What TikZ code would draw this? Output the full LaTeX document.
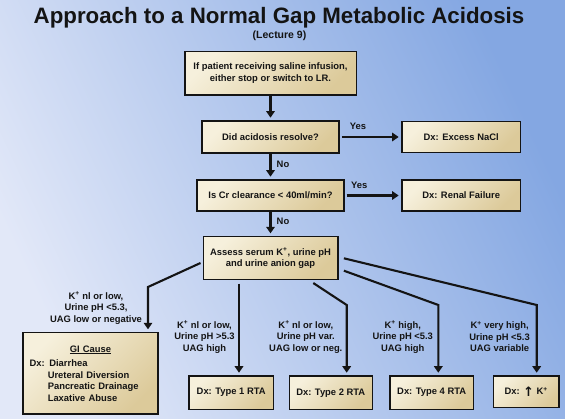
\documentclass[tikz,border=0pt]{standalone}
\usepackage{fontspec}
\setmainfont{Liberation Sans}
\newfontfamily\arrowfont{DejaVu Sans}
\usetikzlibrary{arrows.meta}
\definecolor{bgdark}{HTML}{84A7E2}
\definecolor{bglight}{HTML}{E2E8F8}
\definecolor{boxlight}{HTML}{F6F0DC}
\definecolor{boxdark}{HTML}{DCCA9A}
\definecolor{ink}{HTML}{141414}
\newcommand\mybfont{\fontsize{9.4}{11.5}\selectfont\bfseries}
\begin{document}
\begin{tikzpicture}[x=1pt,y=-1pt,
  box/.style={draw=ink, line width=1.5pt, top color=boxlight, bottom color=boxdark,
    shading angle=45, align=center, font=\mybfont, text=ink, inner sep=0pt},
  arr/.style={draw=ink, line width=2.1pt, -{Triangle[length=6.5pt,width=8.5pt]},
    shorten >=2.6pt},
  lbl/.style={font=\mybfont, align=center, text=ink, inner sep=0pt}]
\useasboundingbox (0,0) rectangle (565,419);
\shade[bottom color=bglight, top color=bgdark, shading angle=-65] (0,0) rectangle (565,419);

% titles
\node[font=\fontsize{22.3}{26}\selectfont\bfseries, text=ink, anchor=base, inner sep=0pt] (title) at (279,23.3) {Approach to a Normal Gap Metabolic Acidosis};
\node[font=\fontsize{10.5}{12}\selectfont\bfseries, text=ink, anchor=base, inner sep=0pt] (lec) at (279.5,38.8) {(Lecture 9)};

% boxes
\node[box, minimum width=171.5, minimum height=43.3] (b1) at (270.5,73.3) {If patient receiving saline infusion,\\ either stop or switch to LR.};
\node[box, minimum width=137, minimum height=32] (b2) at (270.5,137) {Did acidosis resolve?};
\node[box, minimum width=118.4, minimum height=31] (nacl) at (461.2,137) {Dx: Excess NaCl};
\node[box, minimum width=146.7, minimum height=31] (b3) at (270.5,195.5) {Is Cr clearance < 40ml/min?};
\node[box, minimum width=118.4, minimum height=31.3] (renal) at (461.2,195.5) {Dx: Renal Failure};
\node[box, minimum width=134.5, minimum height=42.6] (as) at (270.5,258) {Assess serum K\textsuperscript{+}, urine pH\\ and urine anion gap};
\node[box, minimum width=135, minimum height=81.3, text width=122, align=left] (gi) at (90.5,373.3)
  {\makebox[122pt]{\underline{GI Cause}}\\[3pt]
   Dx: Diarrhea\\
   \phantom{Dx:} Ureteral Diversion\\
   \phantom{Dx:} Pancreatic Drainage\\
   \phantom{Dx:} Laxative Abuse};
\node[box, minimum width=84.3, minimum height=33.3] (t1) at (231.2,392.7) {Dx: Type 1 RTA};
\node[box, minimum width=83, minimum height=33.3] (t2) at (330.8,392.7) {Dx: Type 2 RTA};
\node[box, minimum width=83.3, minimum height=33.3] (t4) at (431.7,392.7) {Dx: Type 4 RTA};
\node[box, minimum width=65.7, minimum height=31.3] (hk) at (526.2,391.7) {Dx: \raisebox{-1.5pt}{\arrowfont\fontsize{13}{13}\selectfont ↑} K\textsuperscript{+}};

% labels
\node[lbl] (yes1) at (358,126) {Yes};
\node[lbl] (yes2) at (359.3,185.7) {Yes};
\node[lbl] (no1) at (283,164) {No};
\node[lbl] (no2) at (283,221.7) {No};
\node[lbl] (gil) at (96,308) {K\textsuperscript{+} nl or low,\\Urine pH <5.3,\\UAG low or negative};
\node[lbl] (t1l) at (204.5,336.7) {K\textsuperscript{+} nl or low,\\Urine pH >5.3\\UAG high};
\node[lbl] (t2l) at (305.8,336.7) {K\textsuperscript{+} nl or low,\\Urine pH var.\\UAG low or neg.};
\node[lbl] (t4l) at (402.8,336.7) {K\textsuperscript{+} high,\\Urine pH <5.3\\UAG high};
\node[lbl] (hkl) at (499.6,336.7) {K\textsuperscript{+} very high,\\Urine pH <5.3\\UAG variable};

% connectors
\draw[arr] (b1) -- (b2);
\draw[arr, shorten <=2pt] (b2) -- (nacl);
\draw[arr] (b2) -- (b3);
\draw[arr, shorten <=2pt] (b3) -- (renal);
\draw[arr] (b3) -- (as);

\coordinate (gibend) at (148,287);
\coordinate (t1x) at (239,0);
\coordinate (t2bend) at (346.7,305);
\coordinate (t4bend) at (438.3,305);
\coordinate (hkbend) at (536.7,305);

\draw[arr, line join=miter] ([shift={(-2,5)}]as.west) -- (gibend) -- (gibend |- gi.north);
\draw[arr, shorten <=3.5pt] (as.south -| t1x) -- (t1.north -| t1x);
\draw[arr, line join=miter] ([shift={(42.8,3)}]as.south) -- (t2bend) -- (t2bend |- t2.north);
\draw[arr, line join=miter] ([shift={(5.4,12.7)}]as.east) -- (t4bend) -- (t4bend |- t4.north);
\draw[arr, line join=miter] ([shift={(5.4,0.3)}]as.east) -- (hkbend) -- (hkbend |- hk.north);
\end{tikzpicture}
\end{document}
